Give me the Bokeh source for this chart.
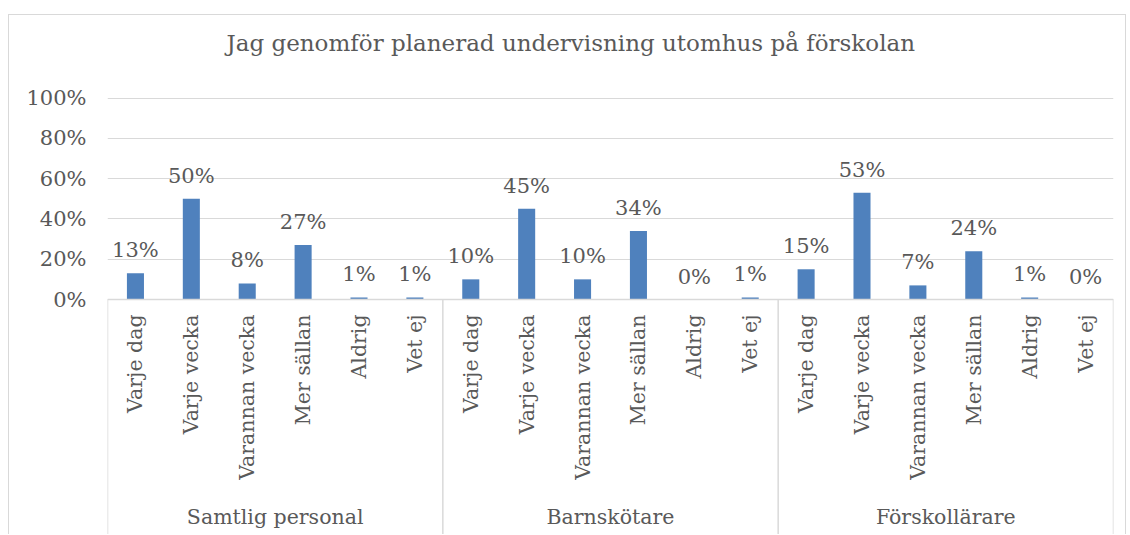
from math import pi
from bokeh.plotting import figure
from bokeh.models import Range1d, FixedTicker, NumeralTickFormatter, ColumnDataSource, InlineStyleSheet
from bokeh.core.properties import value
from bokeh.embed import file_html
from bokeh.resources import INLINE

title_text = "Jag genomför planerad undervisning utomhus på förskolan"
groups = ["Samtlig personal", "Barnskötare", "Förskollärare"]
answers = ["Varje dag", "Varje vecka", "Varannan vecka", "Mer sällan", "Aldrig", "Vet ej"]
samtlig = [0.13, 0.50, 0.08, 0.27, 0.01, 0.01]
barnskotare = [0.10, 0.45, 0.10, 0.34, 0.00, 0.01]
forskollarare = [0.15, 0.53, 0.07, 0.24, 0.01, 0.00]
y_ticks = [0, 0.2, 0.4, 0.6, 0.8, 1.0]

FONT = value("DejaVu Serif")
TXT = "#595959"
LINE = "#d9d9d9"
BAR = "#4f81bd"

series = [samtlig, barnskotare, forskollarare]
xs, tops, cats, labels = [], [], [], []
for gi, vals in enumerate(series):
    for ai, v in enumerate(vals):
        xs.append(gi * len(answers) + ai + 0.5)
        tops.append(v)
        cats.append(answers[ai])
        labels.append(f"{round(v * 100)}%")
n = len(xs)
src = ColumnDataSource(dict(x=xs, top=tops, cat=cats, lab=labels, zero=[0] * n))

px_per_unit = 201.5
y_end = 1 + 2.5 / px_per_unit
y_start = -(236) / px_per_unit

p = figure(width=1118, height=520, output_backend="svg", toolbar_location=None,
           x_range=Range1d(0, n), y_range=Range1d(y_start, y_end),
           x_axis_location=None, min_border_left=98, min_border_right=14,
           min_border_top=80, min_border_bottom=0, outline_line_color=None)
p.stylesheets = [InlineStyleSheet(css=":host { border: 1px solid #d9d9d9 !important; border-bottom: none !important; margin-top: 14px !important; margin-left: 8px !important; }")]

p.title.text = title_text + "\n"
p.title.align = "left"
p.title.offset = 119
p.title.text_font = "DejaVu Serif"
p.title.text_font_size = "23px"
p.title.text_font_style = "normal"
p.title.text_color = TXT
p.title.standoff = 24
p.title.vertical_align = "top"

yax = p.yaxis[0]
yax.ticker = FixedTicker(ticks=y_ticks)
yax.formatter = NumeralTickFormatter(format="0%")
yax.axis_line_color = None
yax.major_tick_line_color = None
yax.minor_tick_line_color = None
yax.major_label_standoff = 15
yax.major_label_text_font = "DejaVu Serif"
yax.major_label_text_font_size = "21px"
yax.major_label_text_color = TXT

p.xgrid.visible = False
p.ygrid.ticker = FixedTicker(ticks=y_ticks)
p.ygrid.grid_line_color = LINE
p.ygrid.grid_line_width = 1

p.vbar(x="x", top="top", width=0.305, source=src, fill_color=BAR, line_color=None)

p.text(x="x", y="top", text="lab", source=src, text_font=FONT, text_font_size="21px",
       text_color=TXT, text_align="center", text_baseline="middle", y_offset=-23)

p.text(x="x", y="zero", text="cat", source=src, text_font=FONT, text_font_size="20.5px",
       text_color=TXT, text_align="right", text_baseline="middle", angle=pi / 2, y_offset=15)

# group separators and group labels
k = len(answers)
sep_x = [i * k for i in range(len(groups) + 1)]
p.segment(x0=sep_x, x1=sep_x, y0=[0] * len(sep_x), y1=[y_start] * len(sep_x), line_color=LINE, line_width=1.5)
p.segment(x0=[0], x1=[n], y0=[0], y1=[0], line_color=LINE, line_width=1.5)
gx = [i * k + k / 2 for i in range(len(groups))]
p.text(x=gx, y=[0] * len(groups), text=groups, text_font=FONT, text_font_size="20.5px",
       text_color=TXT, text_align="center", text_baseline="middle", y_offset=217)

open("out.html", "w").write(file_html(p, INLINE))
